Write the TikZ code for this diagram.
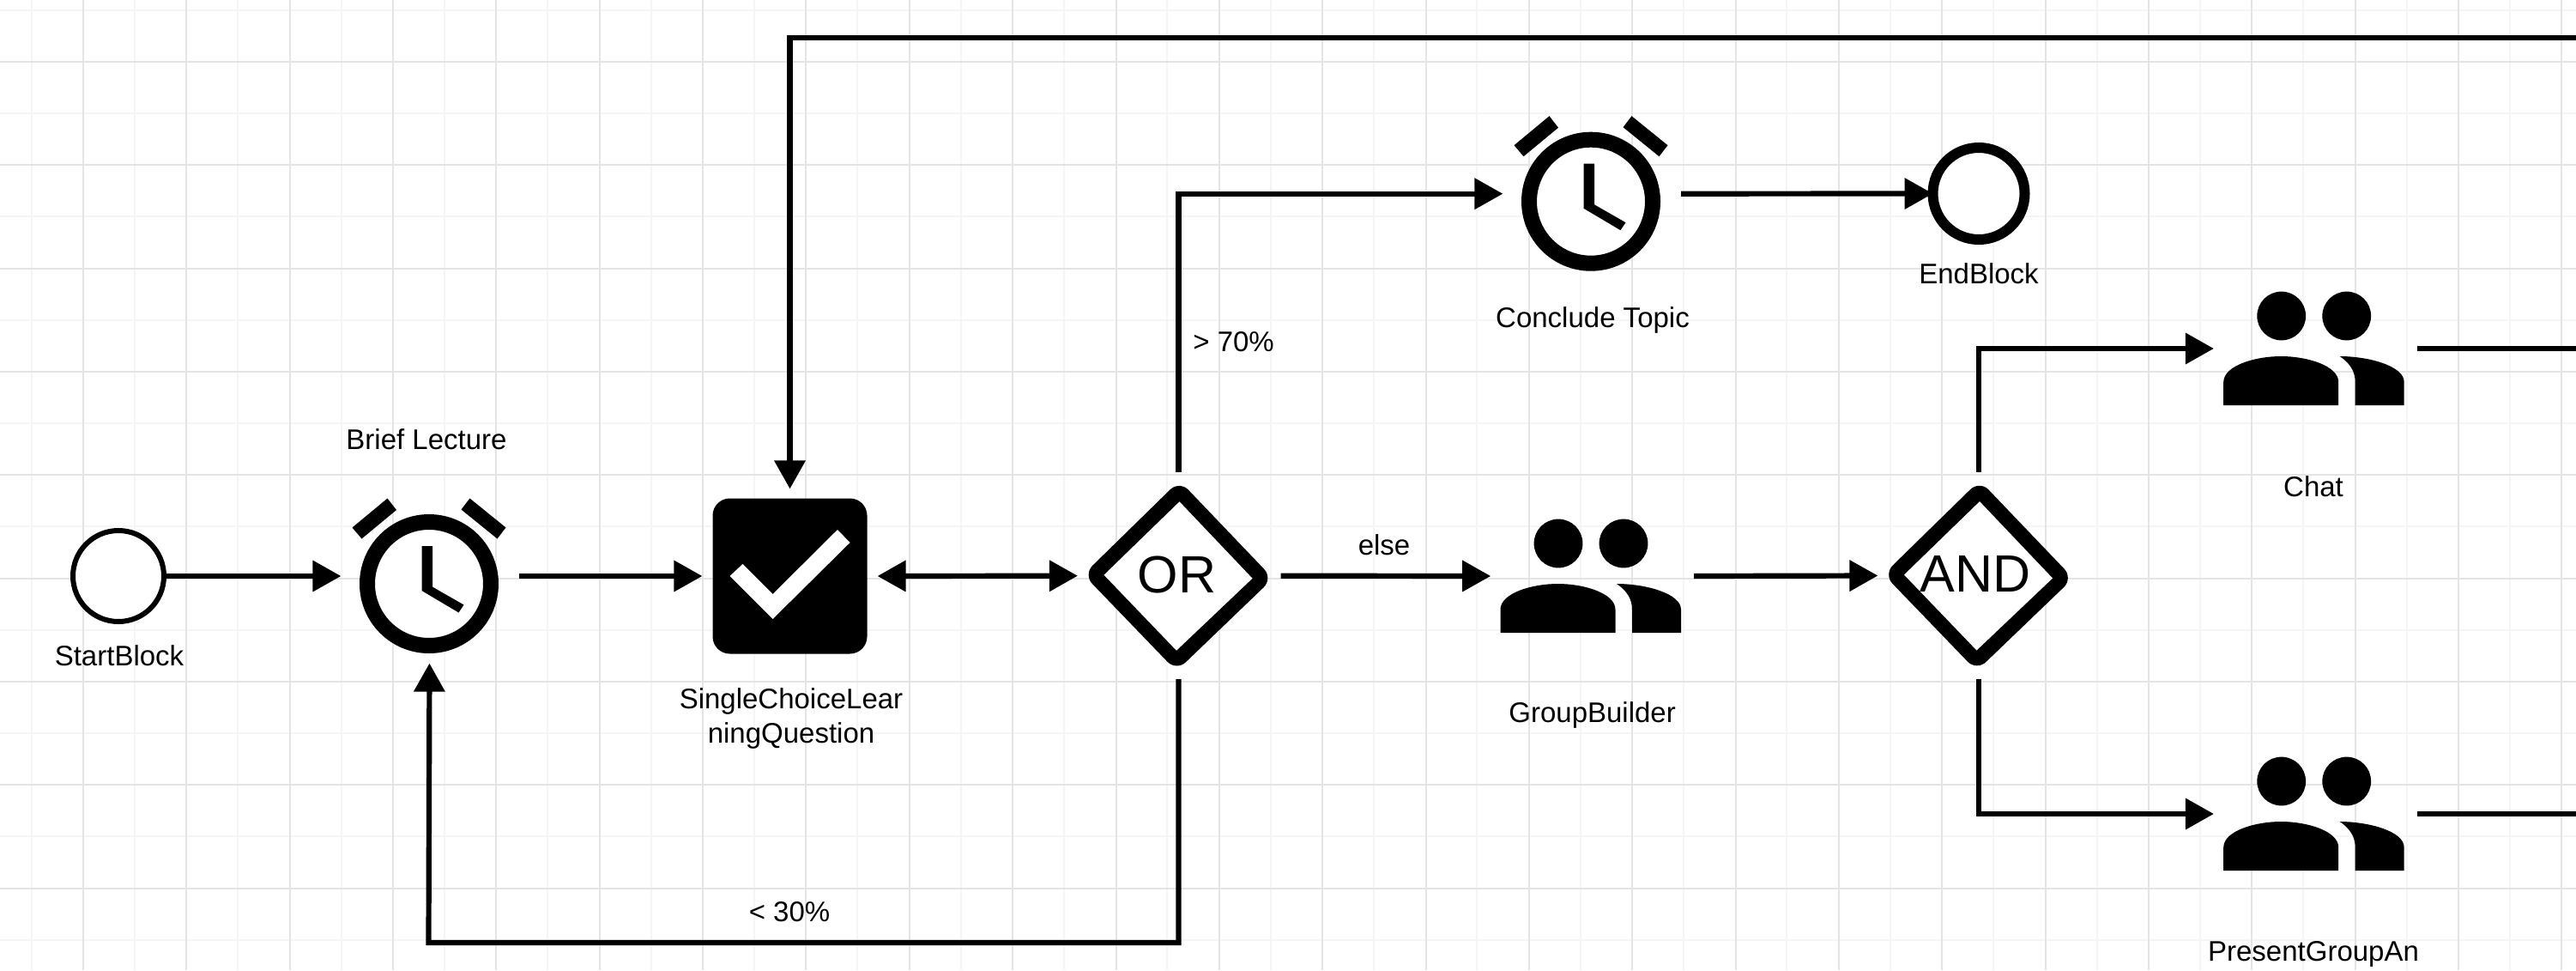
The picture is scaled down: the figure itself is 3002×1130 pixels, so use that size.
\documentclass[tikz,border=0pt]{standalone}
\usepackage{fontspec}
\setmainfont{Liberation Sans}
\usetikzlibrary{arrows.meta}
\definecolor{gridmajor}{HTML}{E4E4E4}
\definecolor{gridminor}{HTML}{F5F5F5}
\tikzset{
  conn/.style={line width=3.1pt,shorten >=-0.7pt,-{Triangle[length=16.5pt,width=17.6pt]}},
  plainconn/.style={line width=3.1pt},
  twoway/.style={line width=3.1pt,shorten >=-0.7pt,shorten <=-0.7pt,{Triangle[length=16.5pt,width=17.6pt]}-{Triangle[length=16.5pt,width=17.6pt]}},
  lbl/.style={anchor=base,inner sep=0pt,font=\fontsize{16.5}{20}\selectfont,align=center},
  gatelbl/.style={anchor=base,inner sep=0pt,font=\fontsize{30.5}{30}\selectfont},
  iconbox/.style={rectangle,inner sep=0pt,outer sep=0pt,minimum width=#1,minimum height=103pt},
  ringnode/.style={circle,draw=black,fill=white,inner sep=0pt,minimum size=#1},
  pics/clockicon/.style={code={
    \begin{scope}[shift={(-0.5,9)}]
      \draw[fill=white,line width=9pt] (0,0) circle[radius=36pt];
      \fill (-48.5,-99.5)--(-38,-86)--(-78.5,-52.5)--(-89.5,-65.5)--cycle;
      \fill (47.5,-99.5)--(89.5,-65.5)--(79.5,-52.5)--(37.5,-86.5)--cycle;
      \fill (-8.5,-44)--(4.2,-44)--(4.2,3.7)--(40.5,24.5)--(34.5,33.5)--(-8.5,8)--cycle;
    \end{scope}
  }},
  pics/groupicon/.style={code={
    \fill (-39,-38) circle[radius=14.2pt];
    \fill (37,-38) circle[radius=14.2pt];
    \fill (-106.5,66)--(-106.5,39) .. controls (-106.5,20) and (-70,9) .. (-39.5,9)
       .. controls (-9,9) and (27.5,20) .. (27.5,39) -- (27.5,66) -- cycle;
    \fill (29,9) .. controls (62,9) and (104,20) .. (104,39) -- (104,66) -- (47,66) -- (47,39)
       .. controls (47,27) and (41,17) .. (29,9) -- cycle;
  }},
  pics/gateicon/.style={code={
    \fill[rounded corners=7.5pt] (1,-111)--(110,3)--(-2.5,111)--(-111,-1.5)--cycle;
    \fill[white] (1,-86.4)--(86,3)--(-2.5,87)--(-87,-1)--cycle;
  }},
  pics/checkicon/.style={code={
    \fill[rounded corners=10pt] (-90,-90.5) rectangle (90,90.5);
    \fill[white] (-70,0)--(-55,-14)--(-20,21)--(55.5,-54)--(70,-39)--(-20,50)--cycle;
  }}
}
\begin{document}
\begin{tikzpicture}[x=0.5pt,y=-0.5pt]
\useasboundingbox (0,0) rectangle (3002,1130);
\fill[white] (0,0) rectangle (3002,1130);
% grid
\foreach \k in {0,...,24} {
  \draw[gridminor,line width=1pt] ({36.5+120.35*\k},0) -- ({36.5+120.35*\k},1130);
}
\foreach \k in {0,...,9} {
  \draw[gridminor,line width=1pt] (0,{11.5+120.35*\k}) -- (3002,{11.5+120.35*\k});
}
\foreach \k in {0,...,24} {
  \draw[gridmajor,line width=1pt] ({97+120.35*\k},0) -- ({97+120.35*\k},1130);
}
\foreach \k in {0,...,8} {
  \draw[gridmajor,line width=1pt] (0,{72+120.35*\k}) -- (3002,{72+120.35*\k});
}
% shapes
\node[ringnode=53pt,line width=3pt] (start) at (138,671) {};
\node[iconbox=104.5pt] (clockA) at (500.5,671) {};
\pic at (clockA) {clockicon};
\node[iconbox=103.5pt] (question) at (920.5,671) {};
\pic at (question) {checkicon};
\node[iconbox=119pt,minimum height=120.5pt] (orgate) at (1373.5,670.7) {};
\pic at (orgate) {gateicon};
\node[iconbox=104.5pt] (clockB) at (1854.5,225.7) {};
\pic at (clockB) {clockicon};
\node[iconbox=119.2pt] (groupA) at (1855,671) {};
\pic at (groupA) {groupicon};
\node[iconbox=119pt,minimum height=120.5pt] (andgate) at (2306,670.5) {};
\pic at (andgate) {gateicon};
\node[iconbox=119.2pt] (groupB) at (2697.7,406) {};
\pic at (groupB) {groupicon};
\node[iconbox=119.2pt] (groupC) at (2697.7,948) {};
\pic at (groupC) {groupicon};
% off-page ends
\coordinate (edgeTop) at (3012,44.3);
\coordinate (edgeB) at (3012,406);
\coordinate (edgeC) at (3012,948);
% connectors
\draw[conn] (start.east) -- (clockA.west);
\draw[conn] (clockA.east) -- (question.west);
\draw[twoway] (question.east) -- (orgate.west);
\draw[conn] (orgate.north) |- (clockB.west);
\node[ringnode=53.5pt,line width=6pt] (endblock) at (2306,225.5) {};
\draw[conn,shorten >=-3pt] (clockB.east) -- (endblock.west);
\draw[conn] (orgate.east) -- (groupA.west);
\draw[conn] (groupA.east) -- (andgate.west);
\draw[conn] (orgate.south) |- (499.5,1098) -- (clockA.south);
\draw[conn] (andgate.north) |- (groupB.west);
\draw[conn] (andgate.south) |- (groupC.west);
\draw[plainconn] (groupB.east) -- (edgeB);
\draw[plainconn] (groupC.east) -- (edgeC);
\draw[conn] (edgeTop) -| (question.north);
% labels
\node[lbl] (tStart) at (139,775) {StartBlock};
\node[lbl] (tBrief) at (497,523) {Brief Lecture};
\node[lbl,anchor=center] (tQuestion) at (922,837) {SingleChoiceLear\\ningQuestion};
\node[lbl] (t30) at (920,1073.6) {< 30\%};
\node[lbl] (t70) at (1437.6,409) {> 70\%};
\node[lbl] (tElse) at (1613,646.7) {else};
\node[gatelbl] (tOr) at (1371.7,690.6) {OR};
\node[gatelbl] (tAnd) at (2302,689) {AND};
\node[lbl] (tGroup) at (1855.6,841.7) {GroupBuilder};
\node[lbl] (tConclude) at (1856,381.7) {Conclude Topic};
\node[lbl] (tEnd) at (2306,330) {EndBlock};
\node[lbl] (tChat) at (2696,578) {Chat};
\node[lbl] (tPresent) at (2696,1119.5) {PresentGroupAn};
\end{tikzpicture}
\end{document}
